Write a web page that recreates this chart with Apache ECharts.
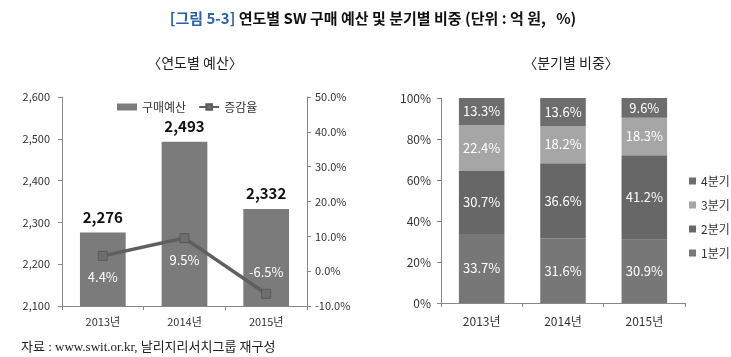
<!DOCTYPE html>
<html><head><meta charset="utf-8">
<script src="https://cdn.jsdelivr.net/npm/echarts@6/dist/echarts.min.js"></script>
<style>html,body{margin:0;padding:0;background:#fff}#c{width:731px;height:357px}</style>
</head><body><div id="c"></div>
<script>
var years = ['2013년', '2014년', '2015년'];
var budget = [2276, 2493, 2332];
var growth = [4.4, 9.5, -6.5];
var growthLabelPos = ['bottom', 'bottom', 'top'];
var q1 = [33.7, 31.6, 30.9];
var q2 = [30.7, 36.6, 41.2];
var q3 = [22.4, 18.2, 18.3];
var q4 = [13.3, 13.6, 9.6];
var leftTicks = [2100, 2200, 2300, 2400, 2500, 2600];
var rightTicks = [-10, 0, 10, 20, 30, 40, 50];

var FONT = '"Noto Sans CJK KR", "Noto Sans", sans-serif';
var chart = echarts.init(document.getElementById('c'));
var axisLabel = {color: '#333', fontSize: 11, fontFamily: FONT};
var axisLine = {show: true, onZero: false, lineStyle: {color: '#888'}};
var axisTick = {show: true, lineStyle: {color: '#888'}, length: 4};

chart.setOption({
  animation: false,
  textStyle: {fontFamily: FONT},
  title: [
    {text: '{b|[그림 5-3]} 연도별 SW 구매 예산 및 분기별 비중 (단위 : 억 원,   %)', left: 368, top: 6, textAlign: 'center',
      textStyle: {fontSize: 15, fontWeight: 600, color: '#111', fontFamily: FONT,
        rich: {b: {fontSize: 15, fontWeight: 600, color: '#2b62a8', fontFamily: FONT}}}},
    {text: '〈연도별 예산〉', left: 190, top: 51, textAlign: 'center', textStyle: {fontSize: 14, fontWeight: 'normal', color: '#222', fontFamily: FONT}},
    {text: '〈분기별 비중〉', left: 566, top: 51, textAlign: 'center', textStyle: {fontSize: 14, fontWeight: 'normal', color: '#222', fontFamily: FONT}},
    {text: '자료 : www.swit.or.kr, 날리지리서치그룹 재구성', left: 16, top: 336, textStyle: {fontSize: 13, fontWeight: 'normal', color: '#222', fontFamily: '"Liberation Serif", "Noto Sans CJK KR", serif'}}
  ],
  legend: [
    {data: [{name: '구매예산', icon: 'rect'}, '증감율'], left: 112, top: 96, itemWidth: 20, itemHeight: 7, itemGap: 12,
      textStyle: {fontSize: 12, color: '#333', fontFamily: FONT}},
    {data: ['4분기', '3분기', '2분기', '1분기'], icon: 'rect', orient: 'vertical', left: 684, top: 170, itemWidth: 7, itemHeight: 7, itemGap: 12,
      textStyle: {fontSize: 12, color: '#333', fontFamily: FONT}}
  ],
  grid: [
    {left: 62, right: 424, top: 97, bottom: 51},
    {left: 441, right: 46, top: 98, bottom: 54}
  ],
  xAxis: [
    {type: 'category', data: years, gridIndex: 0, axisLine: axisLine, axisTick: axisTick, axisLabel: Object.assign({}, axisLabel, {margin: 10})},
    {type: 'category', data: years, gridIndex: 1, axisLine: axisLine, axisTick: axisTick, axisLabel: Object.assign({}, axisLabel, {margin: 12, fontSize: 12})}
  ],
  yAxis: [
    {type: 'value', gridIndex: 0, min: leftTicks[0], max: leftTicks[leftTicks.length - 1], interval: 100,
      axisLine: axisLine, axisTick: axisTick, splitLine: {show: false},
      axisLabel: Object.assign({formatter: function (v) { return v.toLocaleString('en-US'); }, margin: 12}, axisLabel)},
    {type: 'value', gridIndex: 0, position: 'right', min: rightTicks[0], max: rightTicks[rightTicks.length - 1], interval: 10,
      axisLine: axisLine, axisTick: axisTick, splitLine: {show: false},
      axisLabel: Object.assign({formatter: function (v) { return v.toFixed(1) + '%'; }, margin: 8}, axisLabel)},
    {type: 'value', gridIndex: 1, min: 0, max: 100, interval: 20,
      axisLine: axisLine, axisTick: axisTick, splitLine: {show: false},
      axisLabel: Object.assign({}, axisLabel, {formatter: '{value}%', margin: 10, fontSize: 12})}
  ],
  series: [
    {name: '구매예산', type: 'bar', xAxisIndex: 0, yAxisIndex: 0, data: budget, barWidth: '56%',
      itemStyle: {color: '#7b7b7b'},
      label: {show: true, position: 'top', distance: 8, fontSize: 15, fontWeight: 'bold', color: '#111', fontFamily: FONT,
        formatter: function (p) { return p.value.toLocaleString('en-US'); }}},
    {name: '증감율', type: 'line', xAxisIndex: 0, yAxisIndex: 1,
      data: growth.map(function (v, i) { return {value: v, label: {position: growthLabelPos[i]}}; }),
      symbol: 'rect', symbolSize: 9, lineStyle: {color: '#5f5f5f', width: 3.5},
      itemStyle: {color: '#6e6e6e', borderColor: '#5a5a5a', borderWidth: 1},
      label: {show: true, distance: 10, fontSize: 13, color: '#fff', fontFamily: FONT,
        formatter: function (p) { return p.value.toFixed(1) + '%'; }}},
    {name: '1분기', type: 'bar', stack: 'q', xAxisIndex: 1, yAxisIndex: 2, data: q1, barWidth: '56%', itemStyle: {color: '#777777'},
      label: {show: true, color: '#fff', fontSize: 13, formatter: '{c}%', fontFamily: FONT}},
    {name: '2분기', type: 'bar', stack: 'q', xAxisIndex: 1, yAxisIndex: 2, data: q2, itemStyle: {color: '#676767'},
      label: {show: true, color: '#fff', fontSize: 13, formatter: '{c}%', fontFamily: FONT}},
    {name: '3분기', type: 'bar', stack: 'q', xAxisIndex: 1, yAxisIndex: 2, data: q3, itemStyle: {color: '#a6a6a6'},
      label: {show: true, color: '#fff', fontSize: 13, formatter: '{c}%', fontFamily: FONT}},
    {name: '4분기', type: 'bar', stack: 'q', xAxisIndex: 1, yAxisIndex: 2, data: q4, itemStyle: {color: '#6d6d6d'},
      label: {show: true, color: '#fff', fontSize: 13, formatter: '{c}%', fontFamily: FONT}}
  ]
});
</script></body></html>
